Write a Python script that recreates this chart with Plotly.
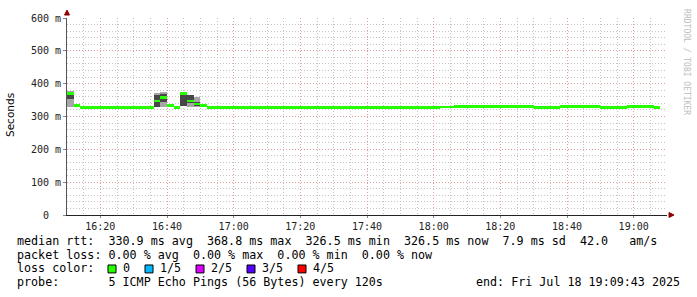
import pandas as pd
import plotly.graph_objects as go

# ---------------- data ----------------
t_start = "2025-07-18 16:10:00"
n_steps = 89
step_ms = 120000

median_rtt = [
    371, 334, 328, 328, 328, 328, 328, 328, 328, 328,
    328, 328, 328, 347, 358, 334, 327, 370, 347, 338,
    334, 328, 328, 328, 328, 328, 328, 328, 328, 328,
    328, 328, 328, 328, 328, 328, 328, 328, 328, 328,
    328, 328, 328, 328, 328, 328, 328, 328, 328, 328,
    328, 328, 328, 328, 328, 328, 329.5, 329.5, 331, 331,
    331, 331, 331, 331, 331, 331, 331, 331, 331, 331,
    328, 328, 328, 328, 331, 331, 331, 331, 331, 331,
    328, 328, 328, 328, 331, 331, 331, 331, 326.5,
]

# smoke (ping spread) for the steps that show it
smoke_idx = [0, 13, 14, 17, 18, 19]
smoke_min = [328, 329, 329, 331, 330, 330]
smoke_max = [378, 373, 374, 371, 365, 359]
smoke_lo = [352, 330, 345, 333, 342, 331]
smoke_hi = [367, 365, 370, 368, 365, 344]

y_ticks = [0, 100, 200, 300, 400, 500, 600]
y_labels = ["0\u00a0\u00a0", "100 m", "200 m", "300 m", "400 m", "500 m", "600 m"]
x_ticks = ["16:20", "16:40", "17:00", "17:20", "17:40", "18:00", "18:20", "18:40", "19:00"]

legend_rows = [
    "median rtt:  330.9 ms avg  368.8 ms max  326.5 ms min  326.5 ms now  7.9 ms sd  42.0   am/s",
    "packet loss: 0.00 % avg  0.00 % max  0.00 % min  0.00 % now",
    "loss color:",
    "probe:       5 ICMP Echo Pings (56 Bytes) every 120s",
]
loss_labels = ["0", "1/5", "2/5", "3/5", "4/5"]
loss_colors = ["#26ff00", "#00b8ff", "#dd00ff", "#5500ff", "#ff0000"]
end_text = "end: Fri Jul 18 19:09:43 2025"

# ---------------- figure ----------------
steps = pd.date_range(t_start, periods=n_steps, freq="2min")
centers = steps + pd.Timedelta(minutes=1)
sm_x = [centers[i] for i in smoke_idx]

W, H = 697, 297
L, R, T, B = 67, 30, 16, 82


def px(x):
    return (x - L) / (W - L - R)


def py(y):
    return (H - B - y) / (H - T - B)


def nb(s):
    return s.replace(" ", "\u00a0")


fig = go.Figure()
fig.add_trace(go.Bar(
    x=sm_x, base=smoke_min, y=[b - a for a, b in zip(smoke_min, smoke_max)],
    width=step_ms, marker=dict(color="#a6a6a6", line=dict(width=0)), hoverinfo="skip"))
fig.add_trace(go.Bar(
    x=sm_x, base=smoke_lo, y=[b - a for a, b in zip(smoke_lo, smoke_hi)],
    width=step_ms, marker=dict(color="#474747", line=dict(width=0)), hoverinfo="skip"))
band = 8
fig.add_trace(go.Bar(
    x=centers, base=[m - band / 2 for m in median_rtt], y=[band] * len(median_rtt),
    width=step_ms, marker=dict(color="#26ff00", line=dict(width=0)), hoverinfo="skip"))

mono = "DejaVu Sans Mono"
major_grid = "#e39c9c"
minor_grid = "#c4c4c4"
fig.update_layout(
    width=W, height=H, autosize=False,
    margin=dict(l=L, r=R, t=T, b=B, pad=0),
    paper_bgcolor="white", plot_bgcolor="white",
    showlegend=False, barmode="overlay", bargap=0,
    font=dict(family=mono, size=10, color="#222"),
)
fig.update_xaxes(
    type="date", range=["2025-07-18 16:10:00", "2025-07-18 19:10:00"],
    tickvals=[pd.Timestamp("2025-07-18 " + t) for t in x_ticks], ticktext=x_ticks,
    tickfont=dict(family=mono, size=10, color="#222"),
    ticks="outside", ticklen=2, tickcolor="#888",
    showline=True, linecolor="#222", linewidth=1,
    showgrid=True, gridcolor=major_grid, griddash="1px,2px", gridwidth=1,
    minor=dict(dtick=300000, showgrid=True, gridcolor=minor_grid, griddash="1px,2px", ticks=""),
    zeroline=False, fixedrange=True,
)
fig.update_yaxes(
    range=[0, 600], tickvals=y_ticks, ticktext=y_labels,
    tickfont=dict(family=mono, size=10, color="#222"),
    ticks="outside", ticklen=3, tickcolor="#888",
    showline=True, linecolor="#555", linewidth=1,
    showgrid=True, gridcolor=major_grid, griddash="1px,2px", gridwidth=1,
    minor=dict(dtick=20, showgrid=True, gridcolor=minor_grid, griddash="1px,2px", ticks=""),
    zeroline=False, fixedrange=True,
)

ann = []
shapes = []
leg_font = dict(family=mono, size=11.7, color="#000")
row_y = [241.5, 255, 269, 283]
for txt, yy in zip(legend_rows, row_y):
    ann.append(dict(x=px(16), y=py(yy), xref="paper", yref="paper", text=nb(txt),
                    showarrow=False, xanchor="left", yanchor="middle", font=leg_font, borderpad=0))
ann.append(dict(x=px(681), y=py(283), xref="paper", yref="paper", text=nb(end_text),
                showarrow=False, xanchor="right", yanchor="middle", font=leg_font, borderpad=0))
sq_x = [108, 145, 196, 247, 298]
lab_x = [122, 159, 210, 261, 312]
for sx, lx, lab, col in zip(sq_x, lab_x, loss_labels, loss_colors):
    shapes.append(dict(type="rect", xref="paper", yref="paper",
                       x0=px(sx), x1=px(sx + 8), y0=py(273.5), y1=py(265.5),
                       fillcolor=col, line=dict(color="#000", width=1)))
    ann.append(dict(x=px(lx), y=py(269), xref="paper", yref="paper", text=nb(lab),
                    showarrow=False, xanchor="left", yanchor="middle", font=leg_font, borderpad=0))

ann.append(dict(x=px(10), y=py(114), xref="paper", yref="paper", text="Seconds", textangle=-90,
                showarrow=False, xanchor="center", yanchor="middle",
                font=dict(family="DejaVu Sans", size=10.5, color="#000")))
ann.append(dict(x=px(687), y=py(5), xref="paper", yref="paper", text=nb("RRDTOOL / TOBI OETIKER"),
                textangle=90, showarrow=False, xanchor="center", yanchor="top",
                font=dict(family=mono, size=8, color="#bdbdbd")))

# axis arrows
def path(pts):
    return "M " + " L ".join(f"{px(a)},{py(b)}" for a, b in pts) + " Z"

shapes.append(dict(type="path", xref="paper", yref="paper",
                   path=path([(64.5, 13), (69.5, 13), (67, 8)]),
                   fillcolor="#8b0000", line=dict(color="#8b0000", width=1)))
shapes.append(dict(type="path", xref="paper", yref="paper",
                   path=path([(669, 212.5), (669, 217.5), (674, 215)]),
                   fillcolor="#8b0000", line=dict(color="#8b0000", width=1)))

fig.update_layout(annotations=ann, shapes=shapes)
fig.write_html("out.html")
